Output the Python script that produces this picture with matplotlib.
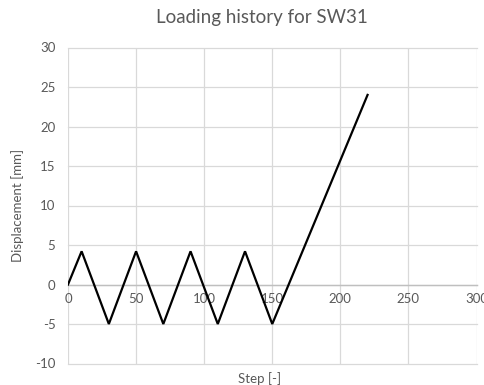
import matplotlib
matplotlib.use("Agg")
import matplotlib.pyplot as plt

# Loading protocol: cyclic amplitude steps followed by a monotonic push
steps = [0, 10, 30, 50, 70, 90, 110, 130, 150, 220]
displacement = [0, 4.2, -5, 4.2, -5, 4.2, -5, 4.2, -5, 24]

x_ticks = [0, 50, 100, 150, 200, 250, 300]
y_ticks = [-10, -5, 0, 5, 10, 15, 20, 25, 30]

plt.rcParams['font.family'] = ['Lato', 'DejaVu Sans']
plt.rcParams['axes.unicode_minus'] = False
text_color = '#595959'
grid_color = '#d9d9d9'

fig = plt.figure(figsize=(4.85, 3.85), dpi=100)
ax = fig.add_axes([68 / 485, 1 - 363.5 / 385, (476.5 - 68) / 485, (363.5 - 47.5) / 385])

ax.plot(steps, displacement, color='black', lw=1.6, solid_joinstyle='miter', zorder=3)

ax.set_xlim(0, 300)
ax.set_ylim(-10, 30)
ax.set_xticks(x_ticks)
ax.set_yticks(y_ticks)

ax.grid(True, color=grid_color, lw=0.9)
ax.set_axisbelow(True)
for g in ax.get_xgridlines() + ax.get_ygridlines():
    g.set_clip_on(False)

for side in ['top', 'right', 'left']:
    ax.spines[side].set_visible(False)
ax.spines['bottom'].set_position(('data', 0))
ax.spines['bottom'].set_color('#bfbfbf')
ax.spines['bottom'].set_linewidth(1.0)
ax.spines['bottom'].set_zorder(2)

ax.tick_params(axis='both', length=0, labelsize=9.5, labelcolor=text_color)
ax.tick_params(axis='y', pad=9)
ax.tick_params(axis='x', pad=6)

fig.text(262 / 485, 1 - 17 / 385, 'Loading history for SW31', ha='center', va='center',
         fontsize=13.5, color=text_color)
fig.text(18 / 485, 1 - 205.5 / 385, 'Displacement [mm]', ha='center', va='center',
         rotation=90, fontsize=9.5, color=text_color)
fig.text(260 / 485, 1 - 379 / 385, 'Step [-]', ha='center', va='center',
         fontsize=9.5, color=text_color)

fig.savefig('out.png', dpi=100)
